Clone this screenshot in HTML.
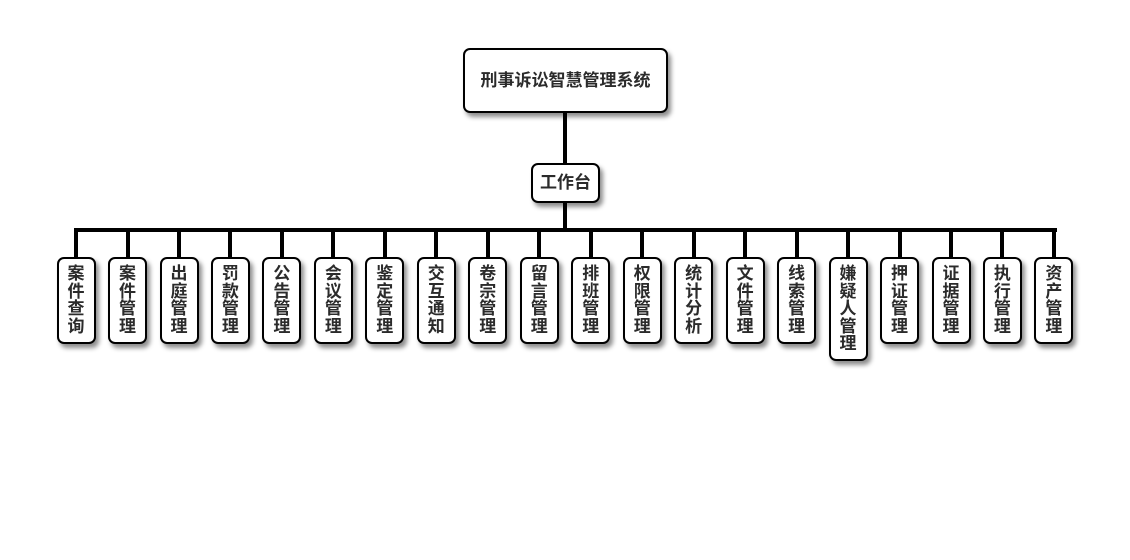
<!DOCTYPE html>
<html>
<head>
<meta charset="utf-8">
<style>
  html, body { margin:0; padding:0; }
  body { width:1130px; height:560px; background:#fff; position:relative; overflow:hidden;
         font-family:"Liberation Sans","Noto Sans CJK SC",sans-serif; }
  .box { position:absolute; box-sizing:border-box; border:2px solid #000; border-radius:7px;
         background:#fff; box-shadow:3px 4px 5px rgba(0,0,0,0.45);
         color:#2b2b2b; font-weight:bold; font-size:17px; text-align:center; }
  .v { width:39px; top:257px; height:87px; padding-top:6px; line-height:17.5px; }
  .v5 { height:104px; }
  .ln { position:absolute; background:#000; }
</style>
</head>
<body>
  <!-- connectors -->
  <div class="ln" style="left:563px; top:110px; width:4px; height:55px;"></div>
  <div class="ln" style="left:563px; top:200px; width:4px; height:30px;"></div>
  <div class="ln" style="left:74px; top:228px; width:983px; height:4px;"></div>

  <div id="vlines"></div>

  <div class="box" style="left:463px; top:48px; width:205px; height:65px; line-height:61px;">刑事诉讼智慧管理系统</div>
  <div class="box" style="left:531px; top:163px; width:69px; height:40px; line-height:36px;">工作台</div>

  <div class="ln" style="left:74px;top:230px;width:4px;height:28px"></div>
  <div class="ln" style="left:125.5px;top:230px;width:4px;height:28px"></div>
  <div class="ln" style="left:177px;top:230px;width:4px;height:28px"></div>
  <div class="ln" style="left:228.4px;top:230px;width:4px;height:28px"></div>
  <div class="ln" style="left:279.9px;top:230px;width:4px;height:28px"></div>
  <div class="ln" style="left:331.4px;top:230px;width:4px;height:28px"></div>
  <div class="ln" style="left:382.8px;top:230px;width:4px;height:28px"></div>
  <div class="ln" style="left:434.3px;top:230px;width:4px;height:28px"></div>
  <div class="ln" style="left:485.8px;top:230px;width:4px;height:28px"></div>
  <div class="ln" style="left:537.2px;top:230px;width:4px;height:28px"></div>
  <div class="ln" style="left:588.7px;top:230px;width:4px;height:28px"></div>
  <div class="ln" style="left:640.2px;top:230px;width:4px;height:28px"></div>
  <div class="ln" style="left:691.6px;top:230px;width:4px;height:28px"></div>
  <div class="ln" style="left:743.1px;top:230px;width:4px;height:28px"></div>
  <div class="ln" style="left:794.6px;top:230px;width:4px;height:28px"></div>
  <div class="ln" style="left:846px;top:230px;width:4px;height:28px"></div>
  <div class="ln" style="left:897.5px;top:230px;width:4px;height:28px"></div>
  <div class="ln" style="left:949px;top:230px;width:4px;height:28px"></div>
  <div class="ln" style="left:1000.4px;top:230px;width:4px;height:28px"></div>
  <div class="ln" style="left:1051.9px;top:230px;width:4px;height:28px"></div>

  <div class="box v" style="left:56.5px">案<br>件<br>查<br>询</div>
  <div class="box v" style="left:108px">案<br>件<br>管<br>理</div>
  <div class="box v" style="left:159.5px">出<br>庭<br>管<br>理</div>
  <div class="box v" style="left:210.9px">罚<br>款<br>管<br>理</div>
  <div class="box v" style="left:262.4px">公<br>告<br>管<br>理</div>
  <div class="box v" style="left:313.9px">会<br>议<br>管<br>理</div>
  <div class="box v" style="left:365.3px">鉴<br>定<br>管<br>理</div>
  <div class="box v" style="left:416.8px">交<br>互<br>通<br>知</div>
  <div class="box v" style="left:468.3px">卷<br>宗<br>管<br>理</div>
  <div class="box v" style="left:519.7px">留<br>言<br>管<br>理</div>
  <div class="box v" style="left:571.2px">排<br>班<br>管<br>理</div>
  <div class="box v" style="left:622.7px">权<br>限<br>管<br>理</div>
  <div class="box v" style="left:674.1px">统<br>计<br>分<br>析</div>
  <div class="box v" style="left:725.6px">文<br>件<br>管<br>理</div>
  <div class="box v" style="left:777.1px">线<br>索<br>管<br>理</div>
  <div class="box v v5" style="left:828.5px">嫌<br>疑<br>人<br>管<br>理</div>
  <div class="box v" style="left:880px">押<br>证<br>管<br>理</div>
  <div class="box v" style="left:931.5px">证<br>据<br>管<br>理</div>
  <div class="box v" style="left:982.9px">执<br>行<br>管<br>理</div>
  <div class="box v" style="left:1034.4px">资<br>产<br>管<br>理</div>
</body>
</html>
